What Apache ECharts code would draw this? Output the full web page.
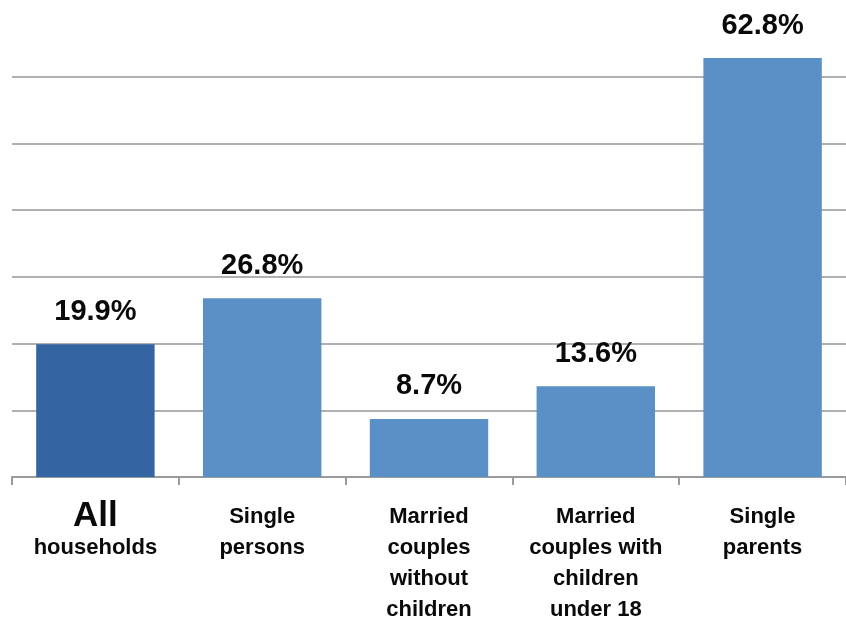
<!DOCTYPE html>
<html>
<head>
<meta charset="utf-8">
<script src="https://cdn.jsdelivr.net/npm/echarts@6/dist/echarts.min.js"></script>
<style>
  html, body { margin: 0; padding: 0; background: #ffffff; }
  #chart { width: 846px; height: 626px; }
</style>
</head>
<body>
<div id="chart"></div>
<script>
// Share of households by type (percent)
const categories = [
  'All\nhouseholds',
  'Single\npersons',
  'Married\ncouples\nwithout\nchildren',
  'Married\ncouples with\nchildren\nunder 18',
  'Single\nparents'
];
const values = [19.9, 26.8, 8.7, 13.6, 62.8];
const barColors = ['#3464A1', '#5B90C7', '#5B90C7', '#5B90C7', '#5B90C7'];

const FONT = '"Liberation Sans", Arial, sans-serif';

const chart = echarts.init(document.getElementById('chart'), null, { renderer: 'canvas' });

chart.setOption({
  animation: false,
  backgroundColor: '#ffffff',
  grid: { left: 12, right: 0, top: 10, bottom: 149, containLabel: false },
  xAxis: {
    type: 'category',
    data: categories,
    boundaryGap: true,
    axisLine: { show: true, lineStyle: { color: '#9a9a9a', width: 2 } },
    axisTick: { show: true, alignWithLabel: false, length: 8, lineStyle: { color: '#9a9a9a', width: 2 } },
    axisLabel: {
      interval: 0,
      margin: 24,
      color: '#0a0a0a',
      fontFamily: FONT,
      fontWeight: 'bold',
      fontSize: 22,
      lineHeight: 31,
      align: 'center',
      formatter: function (v, i) {
        if (i === 0) {
          const parts = v.split('\n');
          return '{big|' + parts[0] + '}\n{small|' + parts[1] + '}';
        }
        return v;
      },
      rich: {
        big: { fontFamily: FONT, fontWeight: 'bold', fontSize: 35, lineHeight: 30, color: '#0a0a0a' },
        small: { fontFamily: FONT, fontWeight: 'bold', fontSize: 22, lineHeight: 34, color: '#0a0a0a' }
      }
    }
  },
  yAxis: {
    type: 'value',
    min: 0,
    max: 70,
    interval: 10,
    axisLine: { show: false },
    axisTick: { show: false },
    axisLabel: { show: false },
    splitLine: {
      show: true,
      lineStyle: {
        color: ['#b0b0b0', '#b0b0b0', '#b0b0b0', '#b0b0b0', '#b0b0b0', '#b0b0b0', '#b0b0b0', 'transparent'],
        width: 2
      }
    }
  },
  series: [{
    type: 'bar',
    data: values.map(function (v, i) {
      return { value: v, itemStyle: { color: barColors[i] } };
    }),
    barWidth: '71%',
    z: 3,
    label: {
      show: true,
      position: 'top',
      distance: 18,
      color: '#0a0a0a',
      fontFamily: FONT,
      fontWeight: 'bold',
      fontSize: 29,
      formatter: function (p) { return p.value.toFixed(1) + '%'; }
    }
  }]
});
</script>
</body>
</html>
